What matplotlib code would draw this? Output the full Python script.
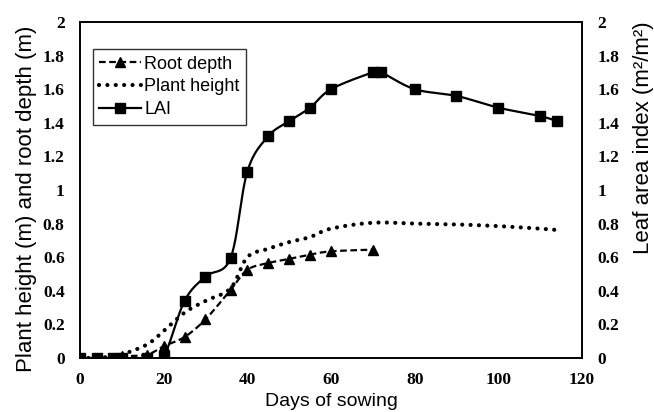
import numpy as np
import matplotlib
matplotlib.use("Agg")
import matplotlib.pyplot as plt
from matplotlib.lines import Line2D

# Days after sowing and measured crop variables
root_days = [0, 4, 8, 10, 16, 20, 25, 30, 36, 40, 45, 50, 55, 60, 70]
root_depth = [0, 0, 0, 0.01, 0.02, 0.07, 0.125, 0.23, 0.405, 0.525, 0.565, 0.59, 0.615, 0.635, 0.645]

height_days = [0, 4, 8, 10, 16, 20, 25, 30, 36, 40, 45, 50, 55, 60, 70, 80, 90, 100, 110, 114]
plant_height = [0, 0, 0.01, 0.02, 0.08, 0.16, 0.27, 0.34, 0.415, 0.60, 0.65, 0.69, 0.72, 0.77,
                0.805, 0.80, 0.795, 0.785, 0.77, 0.762]

lai_days = [0, 4, 8, 10, 16, 20, 25, 30, 36, 40, 45, 50, 55, 60, 70, 72, 80, 90, 100, 110, 114]
lai = [0, 0, 0, 0, 0, 0.01, 0.34, 0.485, 0.595, 1.11, 1.32, 1.41, 1.49, 1.60, 1.70, 1.70,
       1.60, 1.56, 1.49, 1.44, 1.41]

x_ticks = [0, 20, 40, 60, 80, 100, 120]
y_ticks = [0, 0.2, 0.4, 0.6, 0.8, 1, 1.2, 1.4, 1.6, 1.8, 2]
y_tick_labels = ["0", "0.2", "0.4", "0.6", "0.8", "1", "1.2", "1.4", "1.6", "1.8", "2"]

# Tick numbers in bold serif; titles and legend in sans
plt.rcParams["font.family"] = ["Liberation Serif", "DejaVu Serif"]
plt.rcParams["font.weight"] = "bold"
plt.rcParams["font.size"] = 12.5


def smooth(xs, ys, n=24):
    """Cubic Bezier smoothing through every point (spreadsheet-style smoothed line)."""
    p = np.column_stack([xs, ys]).astype(float)
    m = len(p)
    out = [p[0]]
    t = np.linspace(0, 1, n)[1:, None]
    for i in range(m - 1):
        prev = p[i - 1] if i > 0 else p[i]
        nxt = p[i + 2] if i + 2 < m else p[i + 1]
        c1 = p[i] + (p[i + 1] - prev) / 6.0
        c2 = p[i + 1] - (nxt - p[i]) / 6.0
        seg = ((1 - t) ** 3) * p[i] + 3 * ((1 - t) ** 2) * t * c1 \
            + 3 * (1 - t) * t ** 2 * c2 + t ** 3 * p[i + 1]
        out.extend(seg)
    out = np.array(out)
    return out[:, 0], out[:, 1]


tick_font = dict(family="Liberation Serif", weight="bold", size=12.5)
xlabel_font = dict(family="Liberation Sans", weight="normal", size=14)
ylabel_font = dict(family="Liberation Sans", weight="normal", size=16)

fig = plt.figure(figsize=(6.54, 4.12), dpi=100)
ax = fig.add_axes([0.1223, 0.1311, 0.7676, 0.8155])
ax2 = ax.twinx()

dash_style = (0, (3, 1.6))
dot_style = (0, (0.01, 2.0))

# Plant height (dotted, no markers)
hx, hy = smooth(height_days, plant_height)
ax.plot(hx, hy, color="black", lw=3.0, linestyle=dot_style, dash_capstyle="round", zorder=3)

# Root depth (dashed with triangles)
rx, ry = smooth(root_days, root_depth)
ax.plot(rx, ry, color="black", lw=1.6, linestyle=dash_style, zorder=4)
ax.plot(root_days, root_depth, linestyle="none", marker="^", color="black", ms=6.5, zorder=5)

# Leaf area index (solid with squares) on the secondary axis
lx, ly = smooth(lai_days, lai)
ax2.plot(lx, ly, color="black", lw=1.6, zorder=4)
ax2.plot(lai_days, lai, linestyle="none", marker="s", color="black", ms=6.5, zorder=5)

for a in (ax, ax2):
    a.set_xlim(0, 120)
    a.set_ylim(0, 2)
    a.set_yticks(y_ticks)
    a.tick_params(length=0)
    for s in a.spines.values():
        s.set_linewidth(1.2)
        s.set_color("black")

ax.set_xticks(x_ticks)
ax.set_xticklabels([str(v) for v in x_ticks], **tick_font)
ax.set_yticklabels(y_tick_labels, **tick_font)
ax2.set_yticklabels(y_tick_labels, **tick_font)
ax.tick_params(axis="x", pad=10)
ax.tick_params(axis="y", pad=11)
ax2.tick_params(axis="y", pad=11)

ax.set_xlabel("Days of sowing", labelpad=0, **xlabel_font)
ax.set_ylabel("Plant height (m) and root depth (m)", **ylabel_font)
ax2.set_ylabel("Leaf area index (m²/m²)", **ylabel_font)
ax.xaxis.set_label_coords(0.5, -0.105)
ax.yaxis.set_label_coords(-0.0857, 0.475)
ax2.yaxis.set_label_coords(1.1016, 0.657)

handles = [
    Line2D([], [], color="black", lw=1.6, linestyle=dash_style, marker="^", ms=6.5),
    Line2D([], [], color="black", lw=3.0, linestyle=dot_style, dash_capstyle="round"),
    Line2D([], [], color="black", lw=1.6, marker="s", ms=6.5),
]
leg = ax2.legend(handles, ["Root depth", "Plant height", "LAI"],
                 loc="upper left", bbox_to_anchor=(0.026, 0.919),
                 prop=dict(family="Liberation Sans", weight="normal", size=13),
                 frameon=True, fancybox=False, edgecolor="black",
                 handlelength=2.3, handletextpad=0.2, borderpad=0.35,
                 labelspacing=0.33, borderaxespad=0)
leg.get_frame().set_linewidth(1.0)

fig.savefig("out.png", dpi=100)
